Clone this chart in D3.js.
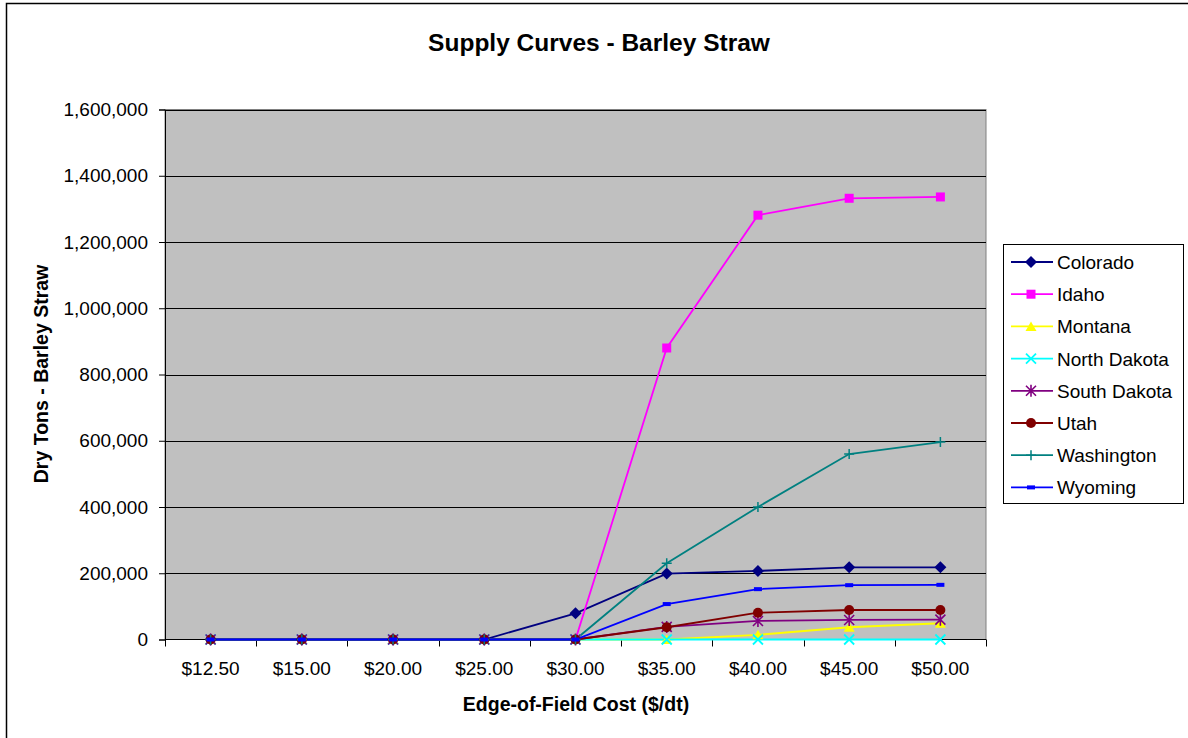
<!DOCTYPE html>
<html lang="en">
<head>
<meta charset="UTF-8">
<title>Supply Curves - Barley Straw</title>
<style>
    body { margin: 0; padding: 0; background: white; }
    svg text { font-family: "Liberation Sans", Arial, sans-serif; fill: #000; }
    .axis path, .axis line { stroke: #000; }
    .axis text { font-size: 19px; }
    .grid line { stroke: #000; stroke-width: 1; }
    .title { font-size: 24.5px; font-weight: bold; }
    .axis-title { font-size: 19.5px; font-weight: bold; }
    .legend text { font-size: 19px; }
</style>
</head>
<body>
<script src="https://cdn.jsdelivr.net/npm/d3@7"></script>
<script>
    // categories (edge-of-field cost)
    var costs = ['$12.50', '$15.00', '$20.00', '$25.00', '$30.00', '$35.00', '$40.00', '$45.00', '$50.00'];

    // dry tons per state
    var colorado    = [0, 0, 0, 0, 79000, 199000, 207000, 218000, 218000];
    var idaho       = [0, 0, 0, 0, 0, 880000, 1281000, 1332000, 1336000];
    var montana     = [0, 0, 0, 0, 0, 0, 14000, 37000, 49000];
    var northDakota = [0, 0, 0, 0, 0, 0, 0, 0, 0];
    var southDakota = [0, 0, 0, 0, 0, 38000, 56000, 59000, 60000];
    var utah        = [0, 0, 0, 0, 0, 37000, 81000, 89000, 89000];
    var washington  = [0, 0, 0, 0, 0, 230000, 400000, 560000, 596000];
    var wyoming     = [0, 0, 0, 0, 0, 107000, 152000, 164000, 165000];

    var yTicks = [0, 200000, 400000, 600000, 800000, 1000000, 1200000, 1400000, 1600000];

    var series = [
        { name: 'Colorado', values: colorado, color: '#000080', marker: 'diamond' },
        { name: 'Idaho', values: idaho, color: '#FF00FF', marker: 'square' },
        { name: 'Montana', values: montana, color: '#FFFF00', marker: 'triangle' },
        { name: 'North Dakota', values: northDakota, color: '#00FFFF', marker: 'x' },
        { name: 'South Dakota', values: southDakota, color: '#800080', marker: 'star' },
        { name: 'Utah', values: utah, color: '#800000', marker: 'circle' },
        { name: 'Washington', values: washington, color: '#008080', marker: 'plus' },
        { name: 'Wyoming', values: wyoming, color: '#0000FF', marker: 'dash' }
    ];

    var W = 1188, H = 738;
    var plot = { left: 165, top: 109.5, right: 986, bottom: 639.5 };

    var svg = d3.select('body').append('svg')
        .attr('width', W)
        .attr('height', H);

    // outer chart border (only left and top fall inside the picture)
    svg.append('rect')
        .attr('x', 6.5).attr('y', 3.5)
        .attr('width', W + 20).attr('height', H + 20)
        .attr('fill', 'white')
        .attr('stroke', '#000')
        .attr('stroke-width', 1.5);

    var x = d3.scaleBand().domain(costs).range([plot.left, plot.right]);
    var y = d3.scaleLinear().domain([0, 1600000]).range([plot.bottom, plot.top]);

    // plot area
    svg.append('rect')
        .attr('x', plot.left).attr('y', plot.top)
        .attr('width', plot.right - plot.left)
        .attr('height', plot.bottom - plot.top)
        .attr('fill', '#C0C0C0')
        .attr('stroke', '#808080')
        .attr('stroke-width', 1);

    // gridlines
    svg.append('g').attr('class', 'grid')
        .selectAll('line')
        .data(yTicks.slice(1))
        .enter().append('line')
        .attr('x1', plot.left).attr('x2', plot.right)
        .attr('y1', function(d) { return Math.round(y(d)) + 0.5; })
        .attr('y2', function(d) { return Math.round(y(d)) + 0.5; });

    // y axis
    svg.append('g').attr('class', 'axis')
        .attr('transform', 'translate(' + plot.left + ',0)')
        .call(d3.axisLeft(y).tickValues(yTicks).tickSize(6).tickPadding(11).tickFormat(d3.format(',')));

    // x axis: ticks at band boundaries
    var xAxis = svg.append('g').attr('class', 'axis')
        .attr('transform', 'translate(0,' + plot.bottom + ')');
    xAxis.append('line')
        .attr('x1', plot.left).attr('x2', plot.right)
        .attr('y1', 0).attr('y2', 0);
    var bounds = costs.map(function(c) { return x(c); }).concat([plot.right]);
    xAxis.selectAll('line.tick')
        .data(bounds)
        .enter().append('line')
        .attr('class', 'tick')
        .attr('x1', function(d) { return Math.round(d) + 0.5; })
        .attr('x2', function(d) { return Math.round(d) + 0.5; })
        .attr('y1', 0).attr('y2', 7);
    xAxis.selectAll('text')
        .data(costs)
        .enter().append('text')
        .attr('x', function(d) { return x(d) + x.bandwidth() / 2; })
        .attr('y', 35.5)
        .attr('text-anchor', 'middle')
        .text(function(d) { return d; });

    // titles
    svg.append('text').attr('class', 'title')
        .attr('x', 599).attr('y', 51)
        .attr('text-anchor', 'middle')
        .text('Supply Curves - Barley Straw');

    svg.append('text').attr('class', 'axis-title')
        .attr('x', 576).attr('y', 711)
        .attr('text-anchor', 'middle')
        .text('Edge-of-Field Cost ($/dt)');

    svg.append('text').attr('class', 'axis-title')
        .attr('transform', 'translate(48,374) rotate(-90)')
        .attr('text-anchor', 'middle')
        .text('Dry Tons - Barley Straw');

    // markers
    function drawMarker(g, type, color) {
        if (type === 'diamond') {
            g.append('path').attr('d', 'M0,-6L6,0L0,6L-6,0Z').attr('fill', color);
        } else if (type === 'square') {
            g.append('rect').attr('x', -4.5).attr('y', -4.5).attr('width', 9).attr('height', 9).attr('fill', color);
        } else if (type === 'triangle') {
            g.append('path').attr('d', 'M0,-5L5.5,4.5L-5.5,4.5Z').attr('fill', color);
        } else if (type === 'x') {
            g.append('path').attr('d', 'M-5,-5L5,5M-5,5L5,-5').attr('stroke', color).attr('stroke-width', 1.8);
        } else if (type === 'star') {
            g.append('path').attr('d', 'M-5,-5L5,5M-5,5L5,-5M0,-6L0,6').attr('stroke', color).attr('stroke-width', 1.6);
        } else if (type === 'circle') {
            g.append('circle').attr('r', 5).attr('fill', color);
        } else if (type === 'plus') {
            g.append('path').attr('d', 'M-5,0L5,0M0,-5L0,5').attr('stroke', color).attr('stroke-width', 1.5);
        } else if (type === 'dash') {
            g.append('rect').attr('x', -4).attr('y', -2).attr('width', 8).attr('height', 4).attr('fill', color);
        }
    }

    var line = d3.line()
        .x(function(d, i) { return x(costs[i]) + x.bandwidth() / 2; })
        .y(function(d) { return y(d); });

    // lines first, then markers, later series on top
    var linesG = svg.append('g');
    var markersG = svg.append('g');
    series.forEach(function(s) {
        linesG.append('path')
            .attr('d', line(s.values))
            .attr('fill', 'none')
            .attr('stroke', s.color)
            .attr('stroke-width', 1.8);
        s.values.forEach(function(v, i) {
            var m = markersG.append('g')
                .attr('transform', 'translate(' + (x(costs[i]) + x.bandwidth() / 2) + ',' + y(v) + ')');
            drawMarker(m, s.marker, s.color);
        });
    });

    // legend
    var legend = svg.append('g').attr('class', 'legend');
    legend.append('rect')
        .attr('x', 1003.5).attr('y', 244.5)
        .attr('width', 180).attr('height', 259)
        .attr('fill', 'white')
        .attr('stroke', '#000')
        .attr('stroke-width', 1);

    series.forEach(function(s, i) {
        var yy = 262 + i * 32.2;
        var row = legend.append('g');
        row.append('line')
            .attr('x1', 1011).attr('x2', 1053)
            .attr('y1', yy).attr('y2', yy)
            .attr('stroke', s.color)
            .attr('stroke-width', 1.8);
        var m = row.append('g').attr('transform', 'translate(1031,' + yy + ')');
        drawMarker(m, s.marker, s.color);
        row.append('text')
            .attr('x', 1057).attr('y', yy + 7)
            .text(s.name);
    });
</script>
</body>
</html>
